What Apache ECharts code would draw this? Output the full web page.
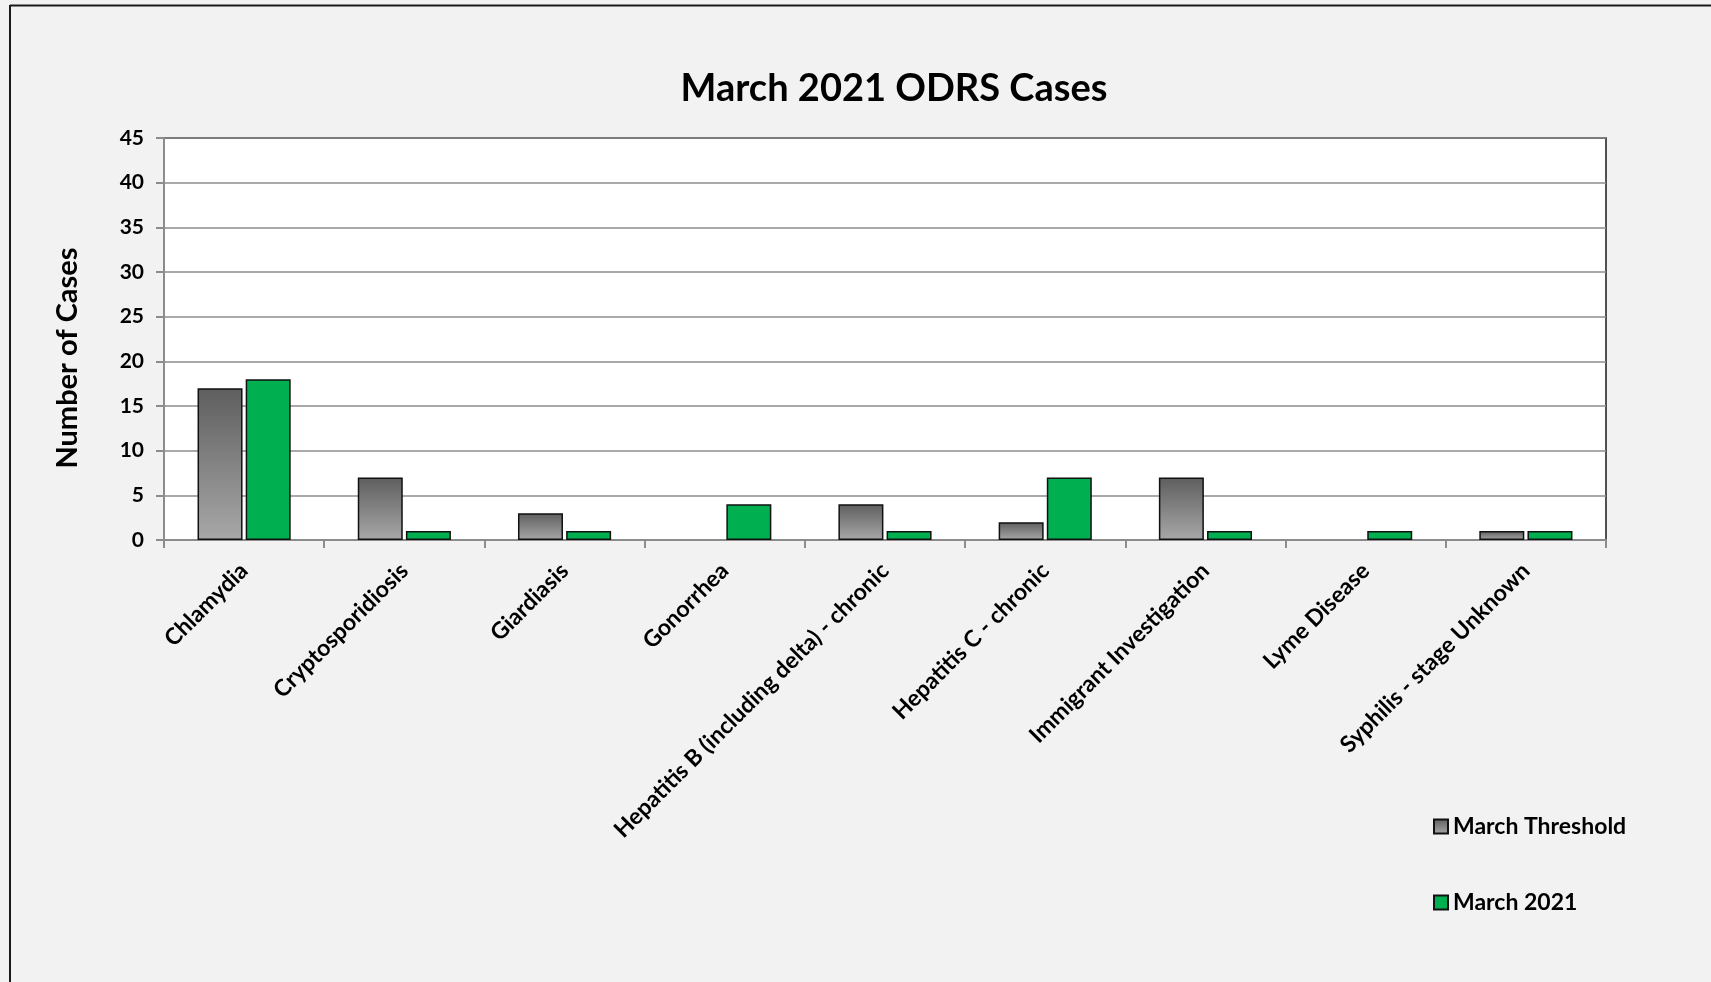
<!DOCTYPE html>
<html>
<head>
<meta charset="utf-8">
<script src="https://cdn.jsdelivr.net/npm/echarts@6/dist/echarts.min.js"></script>
<style>
html,body{margin:0;padding:0;background:#f2f2f2;}
#chart{width:1711px;height:982px;}
</style>
</head>
<body>
<div id="chart"></div>
<script>
const categories = ["Chlamydia","Cryptosporidiosis","Giardiasis","Gonorrhea","Hepatitis B (including delta) - chronic","Hepatitis C - chronic","Immigrant Investigation","Lyme Disease","Syphilis - stage Unknown"];
const marchThreshold = [17, 7, 3, null, 4, 2, 7, null, 1];
const march2021 = [18, 1, 1, 4, 1, 7, 1, 1, 1];
const yTicks = {min: 0, max: 45, interval: 5};

const FONT = 'Lato, "Open Sans", sans-serif';
const chart = echarts.init(document.getElementById('chart'));
const grayGrad = new echarts.graphic.LinearGradient(0, 0, 0, 1, [
  {offset: 0, color: '#5e5e5e'},
  {offset: 1, color: '#a8a8a8'}
]);
chart.setOption({
  backgroundColor: '#f2f2f2',
  animation: false,
  title: {
    text: 'March 2021 ODRS Cases',
    left: 889, top: 65, textAlign: 'center',
    textStyle: {fontFamily: FONT, fontWeight: 'bold', fontSize: 38, color: '#000'}
  },
  graphic: [
    {type: 'line', shape: {x1: 10, y1: 5.5, x2: 1711, y2: 5.5}, style: {stroke: '#1a1a1a', lineWidth: 2}},
    {type: 'line', shape: {x1: 10, y1: 5, x2: 10, y2: 982}, style: {stroke: '#1a1a1a', lineWidth: 2}},
    {type: 'text', x: 68, y: 358, rotation: Math.PI / 2,
     style: {text: 'Number of Cases', fill: '#000', font: 'bold 29px ' + FONT, textAlign: 'center', textVerticalAlign: 'middle'}}
  ],
  legend: {
    orient: 'vertical',
    left: 1428, top: 810,
    itemWidth: 14, itemHeight: 14, itemGap: 53,
    icon: 'rect',
    textStyle: {fontFamily: FONT, fontWeight: 'bold', fontSize: 23, color: '#000', lineHeight: 23},
    data: ['March Threshold', 'March 2021']
  },
  grid: {
    left: 164, right: 105, top: 138, bottom: 442,
    show: true, backgroundColor: '#ffffff', borderColor: '#1a1a1a', borderWidth: 1.5
  },
  xAxis: {
    type: 'category',
    data: categories,
    axisLine: {lineStyle: {color: '#8c8c8c', width: 2}},
    axisTick: {show: true, length: 8, lineStyle: {color: '#8c8c8c', width: 2}},
    axisLabel: {rotate: 45, margin: 27, interval: 0, fontFamily: FONT, fontWeight: 'bold', fontSize: 23, color: '#000'},
    splitLine: {show: false}
  },
  yAxis: {
    type: 'value',
    min: yTicks.min, max: yTicks.max, interval: yTicks.interval,
    axisLine: {show: true, lineStyle: {color: '#8c8c8c', width: 2}},
    axisTick: {show: true, length: 8, lineStyle: {color: '#8c8c8c', width: 2}},
    axisLabel: {margin: 20, fontFamily: FONT, fontWeight: 'bold', fontSize: 21, color: '#000'},
    splitLine: {lineStyle: {color: '#8c8c8c', width: 1.5}}
  },
  series: [
    {
      name: 'March Threshold', type: 'bar', data: marchThreshold,
      barWidth: 45, barGap: '7%',
      itemStyle: {color: grayGrad, borderColor: '#111', borderWidth: 1.5}
    },
    {
      name: 'March 2021', type: 'bar', data: march2021,
      barWidth: 45, barGap: '7%',
      itemStyle: {color: '#00b050', borderColor: '#111', borderWidth: 1.5}
    }
  ]
});
</script>
</body>
</html>
